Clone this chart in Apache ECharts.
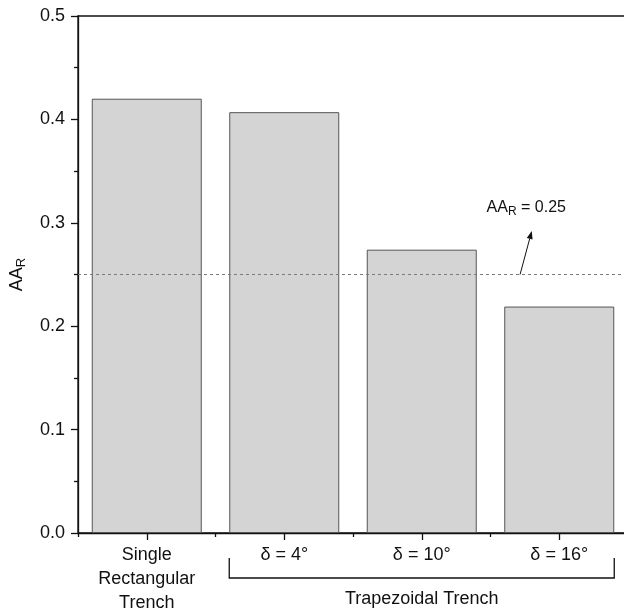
<!DOCTYPE html>
<html>
<head>
<meta charset="utf-8">
<script src="https://cdn.jsdelivr.net/npm/echarts@6/dist/echarts.min.js"></script>
<style>
  html, body { margin: 0; padding: 0; background: #fff; }
  #chart { width: 624px; height: 613px; }
</style>
</head>
<body>
<div id="chart"></div>
<script>
// data
const categories = ['Single\nRectangular\nTrench', 'δ = 4°', 'δ = 10°', 'δ = 16°']
const values = [0.42, 0.407, 0.274, 0.219]
const thresholdValue = 0.25
const groupLabel = 'Trapezoidal Trench'
const groupRange = [1, 3] // categories under the bracket
const yMin = 0
const yMax = 0.5
const yStep = 0.1

const FONT = '"Liberation Sans", Arial, sans-serif'
const INK = '#111'

const chart = echarts.init(document.getElementById('chart'))

const option = {
  animation: false,
  backgroundColor: '#fff',
  grid: {
    left: 78,
    top: 16,
    right: -4,
    bottom: 80,
    outerBoundsMode: 'none',
    containLabel: false,
    show: true,
    borderColor: INK,
    borderWidth: 1.3,
  },
  xAxis: [
    {
      // center ticks + labels
      type: 'category',
      data: categories,
      axisLine: { lineStyle: { color: INK, width: 1.3 } },
      axisTick: { show: true, alignWithLabel: true, length: 7, lineStyle: { color: INK, width: 1.3 } },
      axisLabel: {
        color: INK,
        fontFamily: FONT,
        fontSize: 18,
        lineHeight: 24,
        margin: 10,
        interval: 0,
      },
    },
    {
      // short ticks on category boundaries
      type: 'category',
      data: categories,
      position: 'bottom',
      axisLine: { show: false },
      axisTick: { show: true, length: 4, lineStyle: { color: INK, width: 1.3 } },
      axisLabel: { show: false },
    },
  ],
  yAxis: {
    type: 'value',
    min: yMin,
    max: yMax,
    interval: yStep,
    name: 'AA{sub|R}',
    nameLocation: 'middle',
    nameRotate: 90,
    nameGap: 50,
    nameTextStyle: {
      color: INK,
      fontFamily: FONT,
      fontSize: 18,
      rich: {
        sub: { fontFamily: FONT, fontSize: 13, color: INK, padding: [9, 0, 0, 0] },
      },
    },
    axisLine: { show: true, lineStyle: { color: INK, width: 1.3 } },
    axisTick: { show: true, length: 7, lineStyle: { color: INK, width: 1.3 } },
    minorTick: { show: true, splitNumber: 2, length: 4, lineStyle: { color: INK, width: 1.3 } },
    splitLine: { show: false },
    axisLabel: {
      color: INK,
      fontFamily: FONT,
      fontSize: 18,
      margin: 13,
      formatter: v => v.toFixed(1),
    },
  },
  series: [
    {
      type: 'bar',
      data: values,
      barWidth: '80%',
      itemStyle: { color: '#d4d4d4', borderColor: '#555', borderWidth: 1 },
      markLine: {
        silent: true,
        symbol: 'none',
        label: { show: false },
        lineStyle: { color: '#7a7a7a', type: [3, 3], width: 1 },
        data: [{ yAxis: thresholdValue }],
      },
    },
  ],
}

chart.setOption(option)

// bracket + annotation placed from the axes' own scales
function drawExtras() {
  const x0 = chart.convertToPixel({ xAxisIndex: 0 }, 0)
  const x1 = chart.convertToPixel({ xAxisIndex: 0 }, 1)
  const band = x1 - x0
  const baseY = chart.convertToPixel({ yAxisIndex: 0 }, 0)
  const left = chart.convertToPixel({ xAxisIndex: 0 }, groupRange[0]) - band * 0.4
  const right = chart.convertToPixel({ xAxisIndex: 0 }, groupRange[1]) + band * 0.4
  const midX = (left + right) / 2

  const lineY = chart.convertToPixel({ yAxisIndex: 0 }, thresholdValue)
  const xThr = chart.convertToPixel({ xAxisIndex: 0 }, 2)
  const arrowStart = [xThr + band * 0.715, lineY]
  const arrowEnd = [xThr + band * 0.80, chart.convertToPixel({ yAxisIndex: 0 }, 0.292)]
  const textY = chart.convertToPixel({ yAxisIndex: 0 }, 0.315)

  const ang = Math.atan2(arrowEnd[1] - arrowStart[1], arrowEnd[0] - arrowStart[0])
  const ah = 8, aw = 3
  const back = [arrowEnd[0] - ah * Math.cos(ang), arrowEnd[1] - ah * Math.sin(ang)]
  const nx = -Math.sin(ang), ny = Math.cos(ang)

  chart.setOption({
    graphic: [
      {
        type: 'polyline',
        shape: { points: [[left, baseY + 25], [left, baseY + 45], [right, baseY + 45], [right, baseY + 25]] },
        style: { stroke: INK, lineWidth: 1.3, fill: null },
      },
      {
        type: 'text',
        x: midX,
        y: baseY + 66,
        style: { text: groupLabel, fill: INK, font: '18px ' + FONT, textAlign: 'center', textVerticalAlign: 'middle' },
      },
      {
        type: 'line',
        shape: { x1: arrowStart[0], y1: arrowStart[1], x2: back[0], y2: back[1] },
        style: { stroke: INK, lineWidth: 1 },
      },
      {
        type: 'polygon',
        shape: { points: [arrowEnd, [back[0] + nx * aw, back[1] + ny * aw], [back[0] - nx * aw, back[1] - ny * aw]] },
        style: { fill: INK },
      },
      {
        type: 'text',
        x: xThr + band * 0.76,
        y: textY,
        style: {
          text: 'AA{sub|R} = 0.25',
          fill: INK,
          font: '16px ' + FONT,
          textAlign: 'center',
          textVerticalAlign: 'middle',
          rich: {
            sub: { font: '12px ' + FONT, fill: INK, padding: [8, 0, 0, 0] },
          },
        },
      },
    ],
  })
}

drawExtras()
window.addEventListener('resize', () => { chart.resize(); drawExtras() })
</script>
</body>
</html>
